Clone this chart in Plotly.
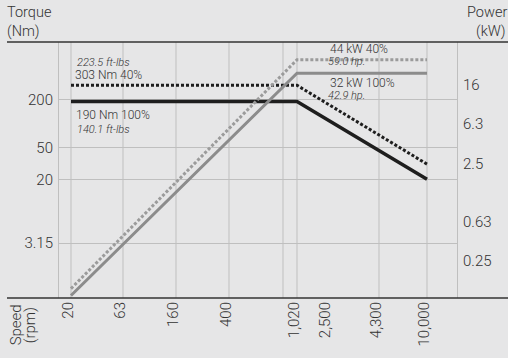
import numpy as np
import plotly.graph_objects as go

# Speed axis (rpm) – tick labels and their positions along the schematic axis
speed_rpm = [20, 63, 160, 400, 1020, 2500, 4300, 10000]
speed_labels = ["20", "63", "160", "400", "1,020", "2,500", "4,300", "10,000"]
speed_pos = [13, 65, 118, 171, 239, 270, 321, 369]

# Vertical guide lines along the speed axis
grid_x = [0.5, 13, 65, 118, 171, 225, 239, 321, 369, 399.5]

# Torque axis (Nm)
torque_ticks = [3.15, 20, 50, 200]
torque_labels = ["3.15", "20", "50", "200"]

# Power axis (kW)
power_ticks = [0.25, 0.63, 2.5, 6.3, 16]
power_labels = ["0.25", "0.63", "2.5", "6.3", "16"]

# Curves
curve_rpm = [20, 1020, 10000]
torque_100 = [190, 190, 20]
torque_40 = [303, 303, 31]
power_100 = [0.17, 32, 32]
power_40 = [0.2, 44, 44]


def speed_to_x(rpm):
    return np.interp(np.log10(rpm), np.log10(speed_rpm), speed_pos)


cx = speed_to_x(curve_rpm)

BG = "#e6e6e7"
GRID = "#bfbfbf"
TXT = "#333333"
FONT = "Roboto"
W = 300

fig = go.Figure()

fig.add_trace(go.Scatter(x=cx, y=power_40, yaxis="y2", mode="lines",
                         line=dict(color="#9b9b9b", width=3, dash="3px,2px"),
                         showlegend=False, hoverinfo="skip"))
fig.add_trace(go.Scatter(x=cx, y=power_100, yaxis="y2", mode="lines",
                         line=dict(color="#8c8c8c", width=3),
                         showlegend=False, hoverinfo="skip"))
fig.add_trace(go.Scatter(x=cx, y=torque_100, mode="lines",
                         line=dict(color="#1e1e1e", width=3.5),
                         showlegend=False, hoverinfo="skip"))
fig.add_trace(go.Scatter(x=cx, y=torque_40, mode="lines",
                         line=dict(color="#1e1e1e", width=3, dash="3px,2px"),
                         showlegend=False, hoverinfo="skip"))

shapes = []
for gx in grid_x:
    shapes.append(dict(type="line", xref="x", yref="paper", x0=gx, x1=gx,
                       y0=0, y1=1, line=dict(color=GRID, width=1), layer="below"))
# heading rule and baseline
for yy in (0, 1):
    shapes.append(dict(type="line", xref="paper", yref="paper",
                       x0=-0.1275, x1=1.13, y0=yy, y1=yy,
                       line=dict(color="#333333", width=1.6)))


def px_to_paper(px, py):
    return (px - 58) / 400, (304 - py) / 262


annotations = []


def label(text, px, py, size=12, italic=False, xanchor="left", angle=0):
    x, y = px_to_paper(px, py)
    annotations.append(dict(
        text=f"<i>{text}</i>" if italic else text,
        x=x, y=y, xref="paper", yref="paper", showarrow=False,
        xanchor=xanchor, yanchor="middle", textangle=angle, borderpad=0,
        font=dict(family=FONT, size=size, color=TXT, weight=W)))


label("Torque", 6, 12, size=14.5)
label("(Nm)", 6, 31, size=14.5)
label("Power", 508, 12, size=14.5, xanchor="right")
label("(kW)", 507, 31, size=14.5, xanchor="right")
label("Speed", 16, 332, size=15, xanchor="center", angle=-90)
label("(rpm)", 30, 332, size=15, xanchor="center", angle=-90)

label("223.5 ft-lbs", 76, 63, size=11, italic=True)
label("303 Nm 40%", 74, 76, size=12)
label("190 Nm 100%", 75, 117, size=12)
label("140.1 ft-lbs", 76, 132, size=11, italic=True)
label("44 kW 40%", 329, 49, size=12)
label("59.0 hp.", 327, 62, size=11, italic=True)
label("32 kW 100%", 329, 84, size=12)
label("42.9 hp.", 327, 97, size=11, italic=True)

tick_font = dict(family=FONT, size=15, color=TXT, weight=W)

fig.update_layout(
    width=508, height=358,
    margin=dict(l=58, r=50, t=42, b=54),
    paper_bgcolor=BG, plot_bgcolor=BG,
    font=dict(family=FONT, color=TXT),
    shapes=shapes, annotations=annotations,
    xaxis=dict(range=[0, 400], tickvals=[float(v) for v in speed_to_x(speed_rpm)],
               ticktext=speed_labels, tickangle=-90, ticks="",
               showgrid=False, zeroline=False, showline=False,
               tickfont=tick_font, ticklabelshift=-3, fixedrange=True),
    yaxis=dict(type="log", range=[-0.190, 3.025], tickvals=torque_ticks,
               ticktext=torque_labels, ticks="", showgrid=True,
               gridcolor=GRID, gridwidth=1, zeroline=False, showline=False,
               tickfont=tick_font, ticklabelstandoff=4, fixedrange=True),
    yaxis2=dict(type="log", overlaying="y", side="right",
                range=[-0.795, 1.825], tickvals=power_ticks,
                ticktext=power_labels, ticks="", showgrid=False,
                zeroline=False, showline=False, tickfont=tick_font,
                ticklabelshift=-18, ticklabelstandoff=4, fixedrange=True),
)

fig.write_html("out.html", config={"displayModeBar": False})
